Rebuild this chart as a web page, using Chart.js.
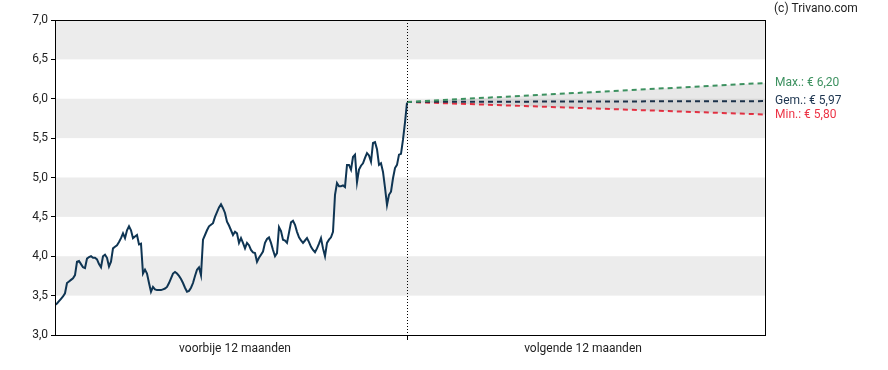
<!DOCTYPE html>
<html>
<head>
<meta charset="utf-8">
<script src="https://cdn.jsdelivr.net/npm/chart.js@4/dist/chart.umd.min.js"></script>
<style>
    html, body { margin: 0; padding: 0; background: #fff; }
    #wrap { width: 888px; height: 370px; position: relative; }
</style>
</head>
<body>
<div id="wrap"><canvas id="koersChart"></canvas></div>
<script>
// Koers afgelopen 12 maanden (ongeveer 2 handelsdagen per stap)
const histPrices = [
    3.38, 3.40, 3.43, 3.46, 3.49, 3.53, 3.66, 3.68, 3.70, 3.72,
    3.76, 3.93, 3.94, 3.90, 3.86, 3.85, 3.97, 3.99, 4.00, 3.98,
    3.98, 3.96, 3.90, 3.86, 4.00, 4.02, 3.98, 3.87, 3.93, 4.10,
    4.12, 4.14, 4.18, 4.23, 4.29, 4.23, 4.33, 4.38, 4.33, 4.23,
    4.25, 4.27, 4.15, 4.16, 3.78, 3.83, 3.78, 3.66, 3.55, 3.61,
    3.58, 3.57, 3.57, 3.57, 3.58, 3.59, 3.61, 3.66, 3.72, 3.78,
    3.80, 3.78, 3.75, 3.71, 3.66, 3.60, 3.55, 3.56, 3.60, 3.66,
    3.75, 3.83, 3.86, 3.76, 4.21, 4.27, 4.33, 4.38, 4.40, 4.42,
    4.50, 4.56, 4.62, 4.66, 4.61, 4.55, 4.44, 4.39, 4.33, 4.27,
    4.31, 4.29, 4.17, 4.23, 4.17, 4.10, 4.17, 4.14, 4.08, 4.05,
    4.04, 3.93, 3.98, 4.02, 4.06, 4.17, 4.22, 4.24, 4.17, 4.08,
    4.00, 4.04, 4.37, 4.32, 4.21, 4.20, 4.17, 4.30, 4.43, 4.45,
    4.40, 4.31, 4.24, 4.20, 4.17, 4.20, 4.23, 4.18, 4.12, 4.08,
    4.05, 4.10, 4.16, 4.23, 4.10, 4.00, 4.17, 4.21, 4.24, 4.31,
    4.78, 4.93, 4.89, 4.89, 4.90, 4.88, 5.16, 5.16, 5.10, 5.26,
    5.29, 4.94, 5.10, 5.15, 5.18, 5.25, 5.31, 5.28, 5.20, 5.44,
    5.45, 5.36, 5.16, 5.18, 5.07, 4.87, 4.65, 4.78, 4.82, 4.99,
    5.12, 5.16, 5.29, 5.30, 5.48, 5.70, 5.95
];

// Koersdoelen voor de volgende 12 maanden
const startPrice = 5.96;
const targetMax = 6.20;
const targetAvg = 5.97;
const targetMin = 5.80;

const periodLabels = ['voorbije 12 maanden', 'volgende 12 maanden'];
const yTicks = [3.0, 3.5, 4.0, 4.5, 5.0, 5.5, 6.0, 6.5, 7.0];

const lastIdx = histPrices.length - 1;
const endIdx = 355;

const histData = histPrices.map((v, i) => ({ x: i, y: v }));
const forecast = (target) => [{ x: lastIdx, y: startPrice }, { x: endIdx, y: target }];

function fmt(v) {
    return v.toFixed(2).replace('.', ',');
}

const colors = {
    hist: '#0f3553',
    max: '#3d9160',
    avg: '#1d3550',
    min: '#ec3446'
};

// Grijze banden, stippellijn en labels rechts
const decorPlugin = {
    id: 'decor',
    beforeDatasetsDraw(chart) {
        const { ctx, chartArea: a, scales: { x, y } } = chart;
        ctx.save();
        ctx.fillStyle = '#ececec';
        for (let i = 0; i < yTicks.length - 1; i++) {
            if (i % 2 === 1) {
                const top = y.getPixelForValue(yTicks[i + 1]);
                const bot = y.getPixelForValue(yTicks[i]);
                ctx.fillRect(a.left, top, a.right - a.left, bot - top);
            }
        }
        ctx.restore();
    },
    afterDatasetsDraw(chart) {
        const { ctx, chartArea: a, scales: { x, y } } = chart;
        ctx.save();
        // dotted divider
        const dx = Math.round(x.getPixelForValue(lastIdx)) + 0.5;
        ctx.strokeStyle = '#000';
        ctx.lineWidth = 1;
        ctx.setLineDash([1, 2]);
        ctx.beginPath();
        ctx.moveTo(dx, a.top);
        ctx.lineTo(dx, a.bottom);
        ctx.stroke();
        ctx.setLineDash([]);
        // frame
        ctx.strokeRect(Math.round(a.left) + 0.5, Math.round(a.top) + 0.5,
            Math.round(a.right - a.left), Math.round(a.bottom - a.top));
        // labels right
        ctx.font = '12px Roboto';
        ctx.textBaseline = 'middle';
        ctx.textAlign = 'left';
        const lx = a.right + 10;
        ctx.fillStyle = colors.max;
        ctx.fillText('Max.: € ' + fmt(targetMax), lx, y.getPixelForValue(targetMax));
        ctx.fillStyle = colors.avg;
        ctx.fillText('Gem.: € ' + fmt(targetAvg), lx, y.getPixelForValue(targetAvg));
        ctx.fillStyle = colors.min;
        ctx.fillText('Min.: € ' + fmt(targetMin), lx, y.getPixelForValue(targetMin));
        // copyright
        ctx.fillStyle = '#222';
        ctx.font = '12px Roboto';
        ctx.fillText('(c) Trivano.com', 774, 9);
        ctx.restore();
    }
};

const ctx = document.getElementById('koersChart').getContext('2d');

new Chart(ctx, {
    type: 'line',
    data: {
        datasets: [
            {
                label: 'Koers',
                data: histData,
                borderColor: colors.hist,
                borderWidth: 2,
                pointRadius: 0,
                tension: 0,
                fill: false,
                order: 0
            },
            {
                label: 'Max',
                data: forecast(targetMax),
                borderColor: colors.max,
                borderWidth: 2,
                borderDash: [5, 4],
                pointRadius: 0,
                fill: 3,
                backgroundColor: 'rgba(0, 0, 0, 0.09)',
                order: 1
            },
            {
                label: 'Gem',
                data: forecast(targetAvg),
                borderColor: colors.avg,
                borderWidth: 2,
                borderDash: [5, 4],
                pointRadius: 0,
                fill: false,
                order: 1
            },
            {
                label: 'Min',
                data: forecast(targetMin),
                borderColor: colors.min,
                borderWidth: 2,
                borderDash: [5, 4],
                pointRadius: 0,
                fill: false,
                order: 1
            }
        ]
    },
    options: {
        responsive: true,
        maintainAspectRatio: false,
        animation: false,
        layout: {
            padding: { left: 0, right: 123, top: 20, bottom: 0 }
        },
        plugins: {
            legend: { display: false },
            tooltip: { enabled: false }
        },
        scales: {
            x: {
                type: 'linear',
                min: 0,
                max: endIdx,
                afterBuildTicks(scale) {
                    scale.ticks = [{ value: 90 }, { value: lastIdx }, { value: 264 }];
                },
                afterFit(scale) {
                    scale.height = 35;
                },
                ticks: {
                    autoSkip: false,
                    maxRotation: 0,
                    padding: 2,
                    color: '#222',
                    font: { family: 'Roboto', size: 12 },
                    callback(value) {
                        if (value === 90) return periodLabels[0];
                        if (value === 264) return periodLabels[1];
                        return '';
                    }
                },
                grid: {
                    drawOnChartArea: false,
                    drawTicks: true,
                    tickLength: 5,
                    color: (c) => (c.tick && c.tick.value === lastIdx) ? '#000' : 'rgba(0,0,0,0)'
                },
                border: { display: true, color: '#000', width: 1 }
            },
            y: {
                min: 3,
                max: 7,
                afterBuildTicks(scale) {
                    scale.ticks = yTicks.map(v => ({ value: v }));
                },
                afterFit(scale) {
                    scale.width = 55;
                },
                ticks: {
                    color: '#222',
                    padding: 3,
                    font: { family: 'Roboto', size: 12 },
                    callback(value) {
                        return value.toFixed(1).replace('.', ',');
                    }
                },
                grid: {
                    drawOnChartArea: false,
                    drawTicks: true,
                    tickLength: 4,
                    color: '#000'
                },
                border: { display: true, color: '#000', width: 1 }
            }
        }
    },
    plugins: [decorPlugin]
});
</script>
</body>
</html>
